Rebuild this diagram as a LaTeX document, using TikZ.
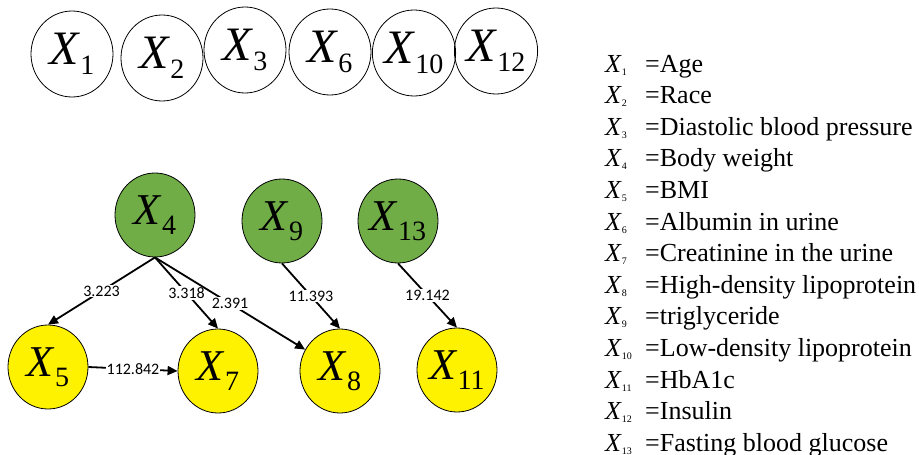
\documentclass[tikz,border=0pt]{standalone}
\usepackage{fontspec}
\setmainfont{Liberation Serif}
\newfontfamily\lblfont{Carlito}
\usetikzlibrary{arrows.meta,shapes.geometric}
\definecolor{rootgreen}{HTML}{70AD47}
\newcommand{\xv}[2][44]{\fontsize{#1}{#1}\selectfont\textit{X}\raisebox{-10pt}{\fontsize{28}{28}\selectfont #2}}
\newcommand{\xl}[1]{\makebox[40pt][l]{\textit{X}\raisebox{-3pt}{\fontsize{10}{10}\selectfont #1}}}
\tikzset{
  >={Triangle[length=10pt,width=9pt]},
  var/.style={ellipse,draw=black,line width=0.8pt,inner sep=0pt},
  topv/.style={var,minimum width=82pt,minimum height=86pt},
  rootv/.style={var,fill=rootgreen,minimum width=80pt,minimum height=84pt},
  leafv/.style={var,fill=yellow,minimum width=80pt,minimum height=84pt},
  wedge/.style={->,line width=1.8pt},
  wlbl/.style={font=\lblfont\fontsize{16}{16}\selectfont,fill=white,inner sep=1pt},
  legitem/.style={anchor=base west,inner sep=0pt,font=\fontsize{26}{26}\selectfont},
}

\begin{document}
\begin{tikzpicture}[x=1pt,y=-1pt]
  \path[use as bounding box] (0,0) rectangle (919,455);
  % variables without edges
  \foreach \i/\px/\py in {1/72/54,2/162/58,3/245/50,6/330/52,10/414/53,12/496/51}
    \node[topv] (x\i) at (\px,\py) {\xv[48]{\i}};
  % causal graph
  \node[rootv] (x4) at (155,215) {\xv{4}};
  \node[rootv] (x9) at (282,221) {\xv{9}};
  \node[rootv] (x13) at (398,221) {\xv{13}};
  \node[leafv] (x5) at (48,367) {\xv{5}};
  \node[leafv] (x7) at (218,371) {\xv{7}};
  \node[leafv] (x8) at (340,371) {\xv{8}};
  \node[leafv] (x11) at (457,370) {\xv{11}};
  \draw[wedge] (x4.south) -- node[wlbl] {3.223} (x5.north);
  \draw[wedge] (x4.south) -- node[wlbl] {3.318} (x7.north);
  \draw[wedge] (x4.south) -- node[wlbl] {2.391} (x8);
  \draw[wedge] (x9.south) -- node[wlbl] {11.393} (x8.north);
  \draw[wedge] (x13.south) -- node[wlbl] {19.142} (x11.north);
  \draw[wedge] (x5.east) -- node[wlbl] {112.842} (x7.west);
  % legend
  \foreach \i/\txt [count=\k from 0] in {1/Age,2/Race,3/Diastolic blood pressure,
      4/Body weight,5/BMI,6/Albumin in urine,7/Creatinine in the urine,
      8/High-density lipoprotein,9/triglyceride,10/Low-density lipoprotein,
      11/HbA1c,12/Insulin,13/Fasting blood glucose}
    \node[legitem] (l\i) at (605,72+31.6*\k) {\xl{\i}=\txt};
\end{tikzpicture}
\end{document}
